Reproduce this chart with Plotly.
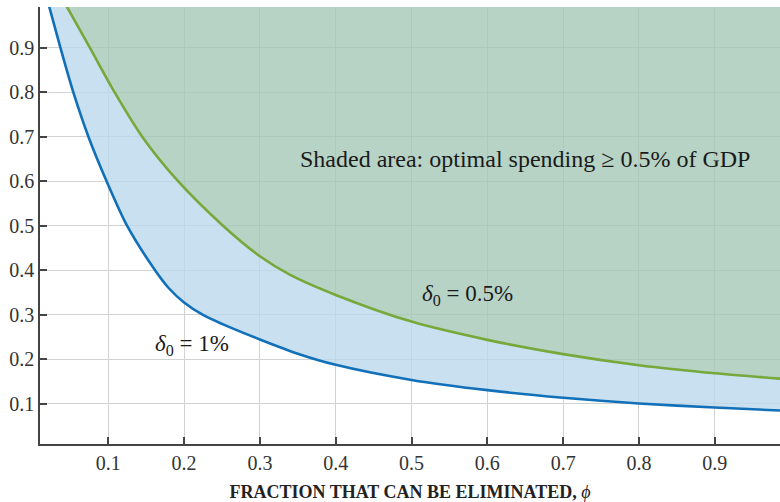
import plotly.graph_objects as go

# delta_0 = 1% boundary (blue)
blue_x = [0.021, 0.037, 0.054, 0.074, 0.098, 0.125, 0.162, 0.18, 0.2, 0.225, 0.25, 0.3, 0.35, 0.4, 0.5, 0.6, 0.7, 0.8, 0.9, 1.0]
blue_y = [1.0, 0.9, 0.8, 0.7, 0.6, 0.5, 0.4, 0.36, 0.328, 0.3, 0.28, 0.245, 0.213, 0.188, 0.154, 0.131, 0.114, 0.101, 0.092, 0.084]

# delta_0 = 0.5% boundary (green)
green_x = [0.043, 0.0759, 0.1085, 0.145, 0.1924, 0.2517, 0.3, 0.34, 0.4, 0.5, 0.6, 0.7, 0.8, 0.9, 1.0]
green_y = [1.0, 0.9, 0.8, 0.7, 0.6, 0.5, 0.432, 0.39, 0.345, 0.285, 0.244, 0.212, 0.187, 0.169, 0.155]

x_ticks = [0.1, 0.2, 0.3, 0.4, 0.5, 0.6, 0.7, 0.8, 0.9]
y_ticks = [0.1, 0.2, 0.3, 0.4, 0.5, 0.6, 0.7, 0.8, 0.9]
x_range = [0.01, 0.986]
y_range = [0.01, 0.992]
y_top = 1.05

FONT = "Liberation Serif, Times New Roman, serif"

fig = go.Figure()

# blue band: between blue curve and green curve (closed along top)
band_x = blue_x + green_x[::-1]
band_y = blue_y + green_y[::-1]
fig.add_trace(go.Scatter(x=band_x, y=band_y, fill="toself", mode="none",
                         fillcolor="rgba(186,216,236,0.8)", hoverinfo="skip", showlegend=False))

# green region: above green curve
gx = green_x + [green_x[-1], green_x[0]]
gy = green_y + [y_top, y_top]
fig.add_trace(go.Scatter(x=gx, y=gy, fill="toself", mode="none",
                         fillcolor="rgba(165,200,182,0.8)", hoverinfo="skip", showlegend=False))

fig.add_trace(go.Scatter(x=blue_x, y=blue_y, mode="lines",
                         line=dict(color="#1170b8", width=2.6, shape="spline", smoothing=0.8),
                         showlegend=False))
fig.add_trace(go.Scatter(x=green_x, y=green_y, mode="lines",
                         line=dict(color="#76a83a", width=2.6, shape="spline", smoothing=0.8),
                         showlegend=False))

TXT = "#1a1a1a"
fig.add_annotation(x=0.350, y=0.651, xanchor="left", yanchor="middle", showarrow=False,
                   text="Shaded area: optimal spending ≥ 0.5% of GDP",
                   font=dict(family=FONT, size=24, color=TXT))
fig.add_annotation(x=0.511, y=0.345, xanchor="left", yanchor="middle", showarrow=False,
                   text="<i>δ</i><sub>0</sub> = 0.5%",
                   font=dict(family=FONT, size=23, color=TXT))
fig.add_annotation(x=0.159, y=0.232, xanchor="left", yanchor="middle", showarrow=False,
                   text="<i>δ</i><sub>0</sub> = 1%",
                   font=dict(family=FONT, size=23, color=TXT))

axis_common = dict(showline=True, linecolor="#444444", linewidth=1.5,
                   ticks="inside", ticklen=7, tickcolor="#444444", tickwidth=1.5,
                   showgrid=True, gridcolor="#d2d2d2", gridwidth=1, zeroline=False,
                   tickfont=dict(family=FONT, size=20, color="#333333"))

fig.update_xaxes(range=x_range, tickvals=x_ticks, ticktext=[f"{v:.1f}" for v in x_ticks],
                 title=dict(text="<b>FRACTION THAT CAN BE ELIMINATED, </b><i>ϕ</i>",
                            font=dict(family=FONT, size=18, color="#222222"), standoff=14),
                 automargin=False, **axis_common)
fig.update_yaxes(range=y_range, tickvals=y_ticks, ticktext=[f"{v:.1f}" for v in y_ticks],
                 automargin=False, **axis_common)

fig.update_layout(width=780, height=502, margin=dict(l=40, r=0, t=7, b=58),
                  plot_bgcolor="white", paper_bgcolor="white")

fig.write_html("out.html", config={"displayModeBar": False},
               post_script="document.body.style.margin='0';")
